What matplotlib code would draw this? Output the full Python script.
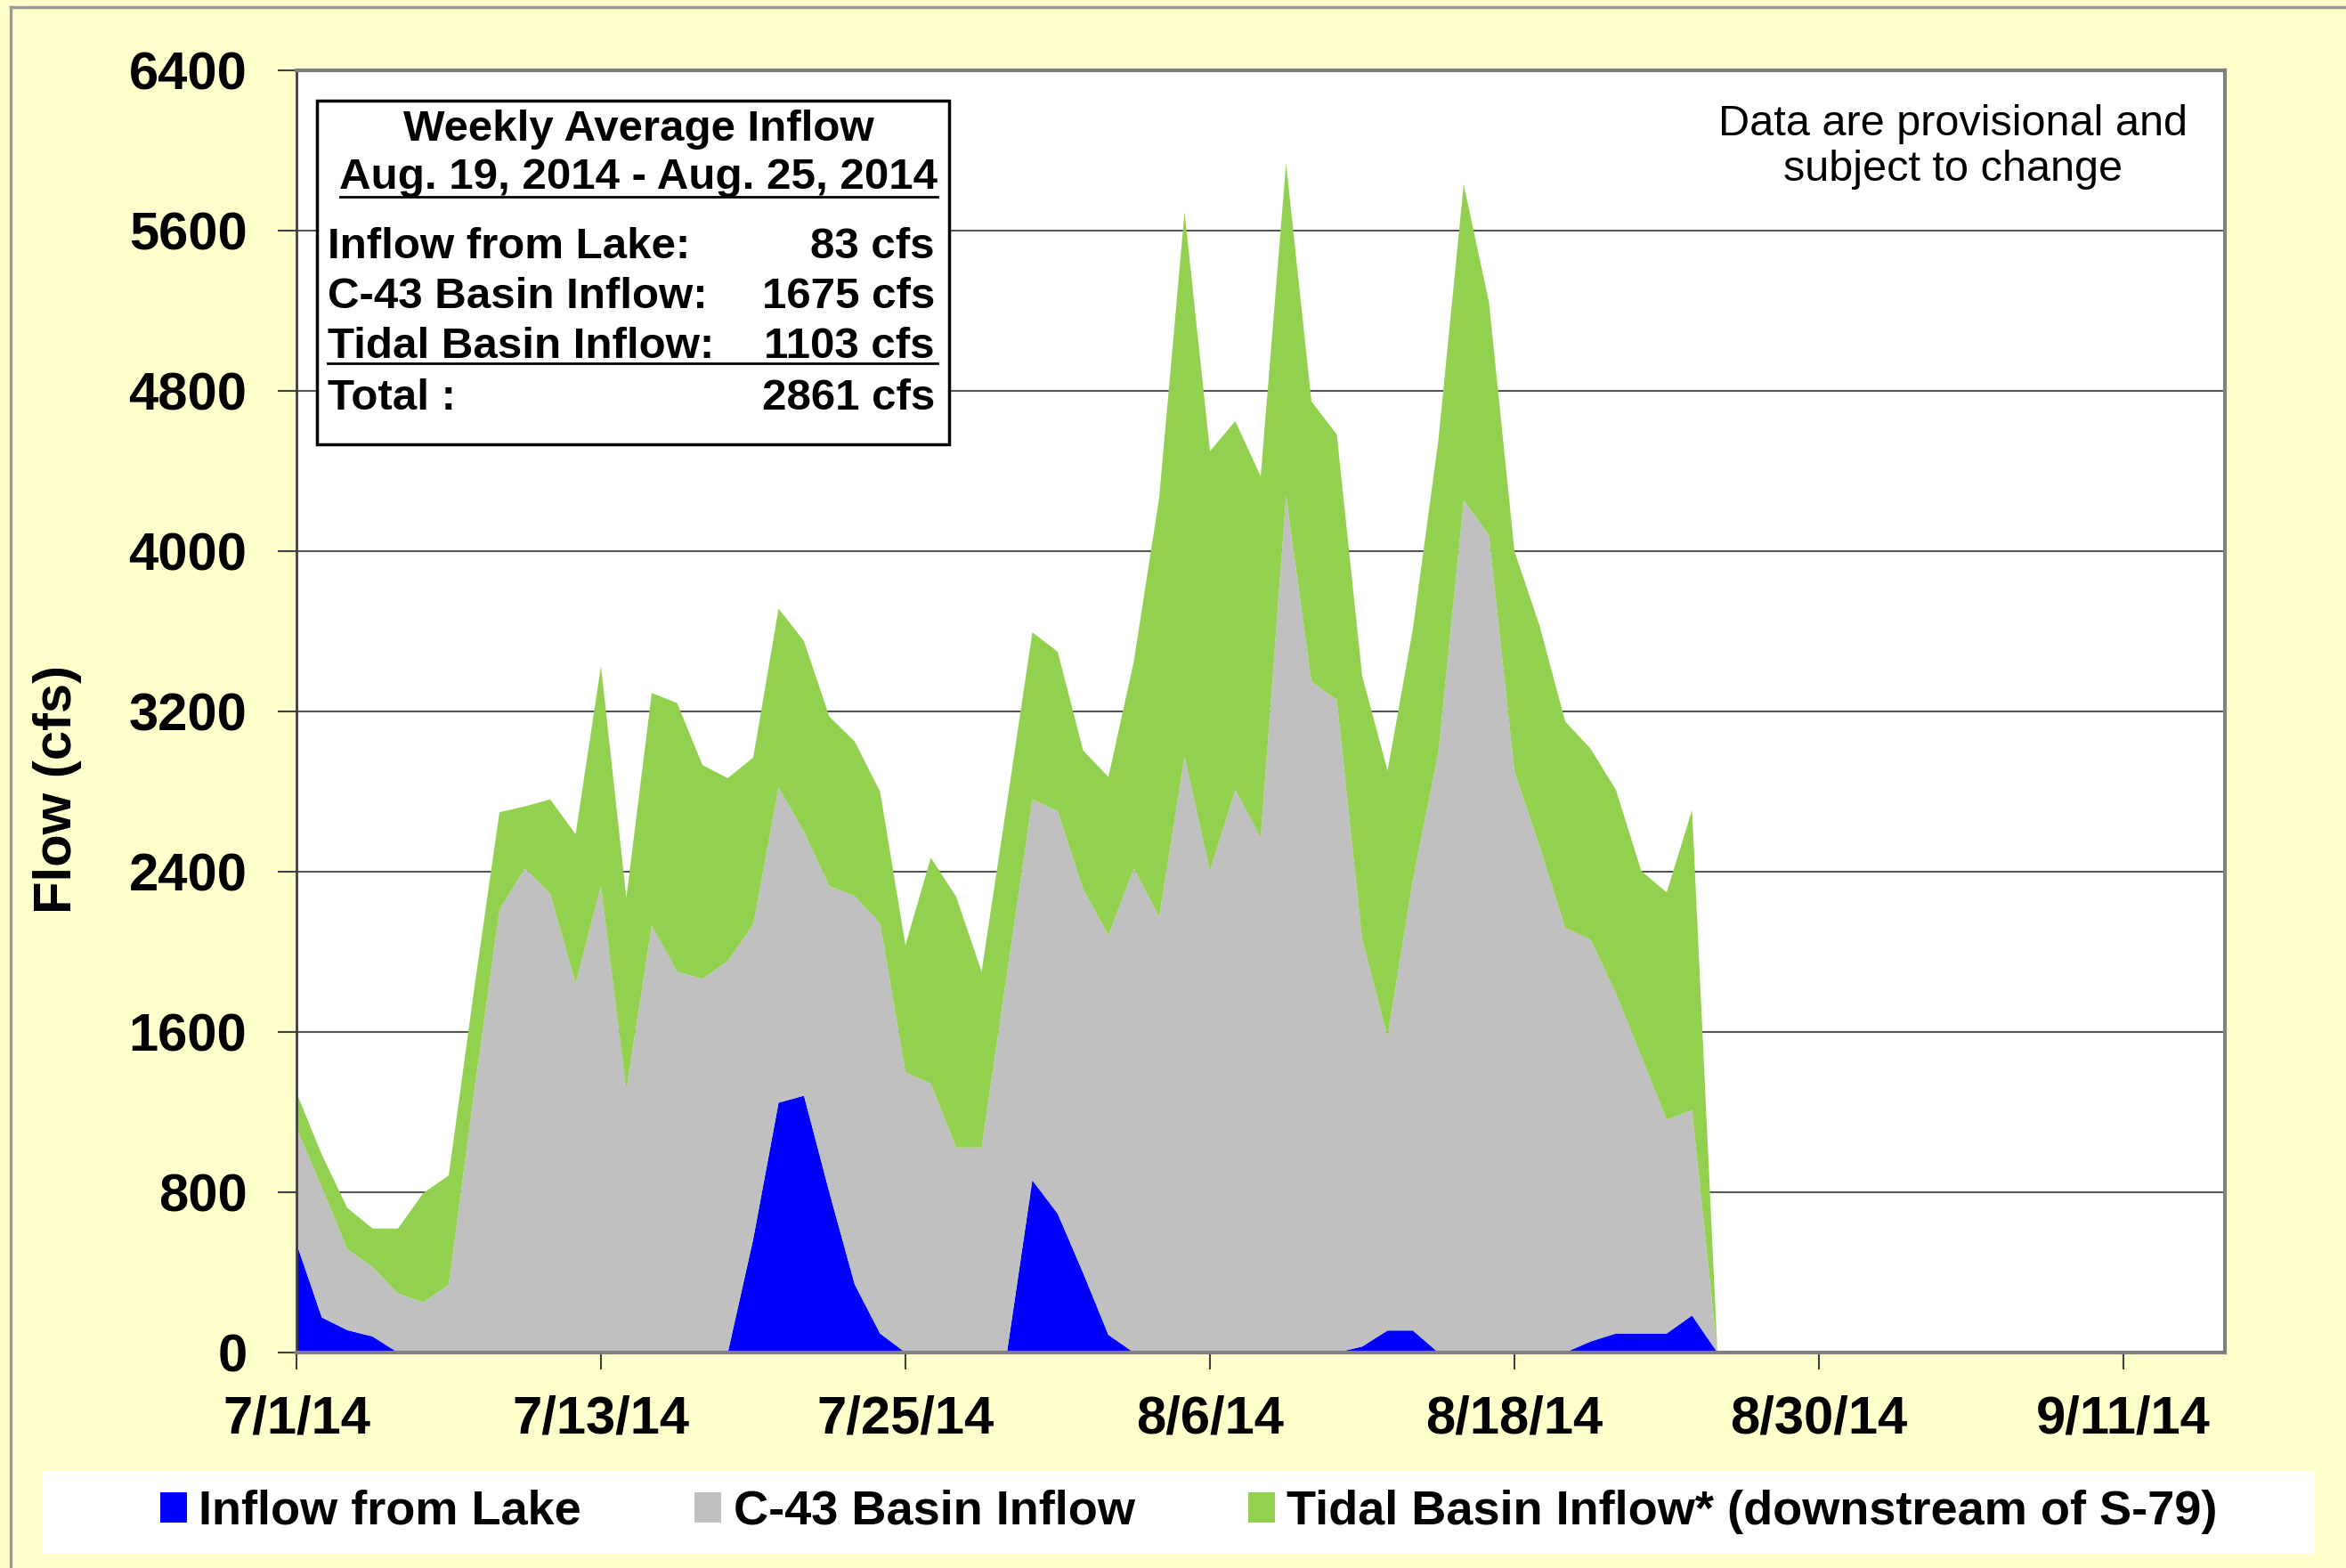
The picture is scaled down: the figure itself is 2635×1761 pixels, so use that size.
import matplotlib.pyplot as plt
import matplotlib.dates as mdates
from matplotlib.patches import Rectangle
from matplotlib.lines import Line2D
import pandas as pd

plt.rcParams['font.family'] = ['Liberation Sans', 'DejaVu Sans']

# daily flows (cfs), 7/1/14 - 8/26/14
dates = pd.date_range("2014-07-01", "2014-08-26", freq="D")

lake = [545, 175, 112, 80, 0, 0, 0, 0, 0, 0,
        0, 0, 0, 0, 0, 0, 0, 0, 566, 1247,
        1282, 800, 340, 95, 0, 0, 0, 0, 0, 860,
        693, 398, 88, 0, 0, 0, 0, 0, 0, 0,
        0, 0, 30, 110, 110, 0, 0, 0, 0, 0,
        0, 55, 95, 95, 95, 185, 0]
c43 = [575, 650, 404, 347, 295, 250, 339, 1300, 2210, 2417,
       2290, 1842, 2328, 1311, 2131, 1901, 1865, 1954, 1571, 1573,
       1318, 1528, 1938, 2047, 1400, 1341, 1023, 1023, 1892, 1901,
       2009, 1915, 1995, 2415, 2175, 2975, 2403, 2809, 2569, 4275,
       3349, 3258, 2031, 1466, 2254, 2994, 4255, 4078, 2900, 2522,
       2120, 2006, 1698, 1383, 1067, 1025, 0]
tidal = [177, 162, 206, 192, 324, 546, 545, 512, 487, 309,
         471, 745, 1099, 958, 1161, 1341, 1067, 913, 833, 893,
         951, 846, 772, 658, 633, 1129, 1252, 878, 849, 834,
         796, 693, 790, 1035, 2092, 2718, 2096, 1840, 1804, 1662,
         1399, 1324, 1316, 1328, 1249, 1557, 1576, 1162, 1100, 1103,
         1030, 953, 1016, 925, 1135, 1497, 0]

series_names = ["Inflow from Lake", "C-43 Basin Inflow",
                "Tidal Basin Inflow* (downstream of S-79)"]
series_colors = ["#0000FF", "#C0C0C0", "#92D050"]

x_ticks = pd.date_range("2014-07-01", periods=7, freq="12D")
x_tick_labels = ["7/1/14", "7/13/14", "7/25/14", "8/6/14",
                 "8/18/14", "8/30/14", "9/11/14"]
y_ticks = [0, 800, 1600, 2400, 3200, 4000, 4800, 5600, 6400]

box_title = "Weekly Average Inflow"
box_period = "Aug. 19, 2014 - Aug. 25, 2014"
box_rows = ["Inflow from Lake:", "C-43 Basin Inflow:", "Tidal Basin Inflow:", "Total :"]
box_values = ["83 cfs", "1675 cfs", "1103 cfs", "2861 cfs"]

W, H = 2635, 1761


def fx(px):
    return px / W


def fy(py):
    return 1 - py / H


fig = plt.figure(figsize=(W / 100, H / 100), dpi=100)
fig.patch.set_facecolor("#FFFFCC")

# outer frame (left and top edges visible)
fig.add_artist(Line2D([fx(12), fx(12)], [fy(8), 0], color="#9a9a9a", lw=2.5))
fig.add_artist(Line2D([fx(12), 1], [fy(8), fy(8)], color="#9a9a9a", lw=2.5))

ax = fig.add_axes([fx(333), fy(1519), fx(2499) - fx(333), fy(79) - fy(1519)])
ax.set_facecolor("white")

polys = ax.stackplot(dates, lake, c43, tidal, colors=series_colors,
                     labels=series_names, linewidth=0)

ax.set_xlim(pd.Timestamp("2014-07-01"), pd.Timestamp("2014-09-15"))
ax.set_ylim(0, 6400)
ax.set_xticks(x_ticks)
ax.set_xticklabels(x_tick_labels)
ax.set_yticks(y_ticks)
ax.set_yticklabels([str(v) for v in y_ticks])

ax.set_axisbelow(True)
ax.yaxis.grid(True, color="#555555", lw=1.5)

for lbl in ax.get_xticklabels() + ax.get_yticklabels():
    lbl.set_fontweight("bold")
ax.tick_params(axis="x", direction="out", length=14, width=1.5,
               color="#404040", labelsize=43, pad=20)
ax.tick_params(axis="y", direction="out", length=15, width=1.5,
               color="#404040", labelsize=43, pad=25)

for side in ["top", "right", "bottom"]:
    ax.spines[side].set_color("#808080")
    ax.spines[side].set_linewidth(3)
ax.spines["left"].set_color("#404040")
ax.spines["left"].set_linewidth(2)

fig.text(fx(64), fy(886), "Flow (cfs)", rotation=90, ha="center", va="center",
         fontsize=43, fontweight="bold")

# weekly average box
fig.add_artist(Rectangle((fx(356), fy(499)), fx(1066) - fx(356), fy(113) - fy(499),
                         transform=fig.transFigure, facecolor="white",
                         edgecolor="black", lw=2.5))
fig.text(fx(717), fy(146), box_title, ha="center", va="center",
         fontsize=35.5, fontweight="bold")
fig.text(fx(717), fy(199), box_period, ha="center", va="center",
         fontsize=35.5, fontweight="bold")
fig.add_artist(Line2D([fx(382), fx(1053)], [fy(221), fy(221)], color="black", lw=2))
row_y = [277, 333, 389, 447]
for name, val, yy in zip(box_rows, box_values, row_y):
    fig.text(fx(368), fy(yy), name, ha="left", va="center",
             fontsize=35.5, fontweight="bold")
    fig.text(fx(1050), fy(yy), val, ha="right", va="center",
             fontsize=35.5, fontweight="bold")
fig.add_artist(Line2D([fx(368), fx(1053)], [fy(408), fy(408)], color="black", lw=2))

fig.text(fx(2194), fy(165), "Data are provisional and\nsubject to change",
         ha="center", va="center", fontsize=35, linespacing=1.15)

# legend strip
fig.add_artist(Rectangle((fx(48), fy(1745)), fx(2600) - fx(48), fy(1652) - fy(1745),
                         transform=fig.transFigure, facecolor="white",
                         edgecolor="none"))
fig.legend(handles=polys, labels=series_names, loc="center left",
           bbox_to_anchor=(fx(153), fy(1698)), ncol=3, frameon=False,
           prop={"size": 39, "weight": "bold"}, borderpad=0,
           handlelength=0.55, handleheight=0.6, handletextpad=0.25,
           columnspacing=2.35)

fig.savefig("out.png", dpi=100, facecolor=fig.get_facecolor())
